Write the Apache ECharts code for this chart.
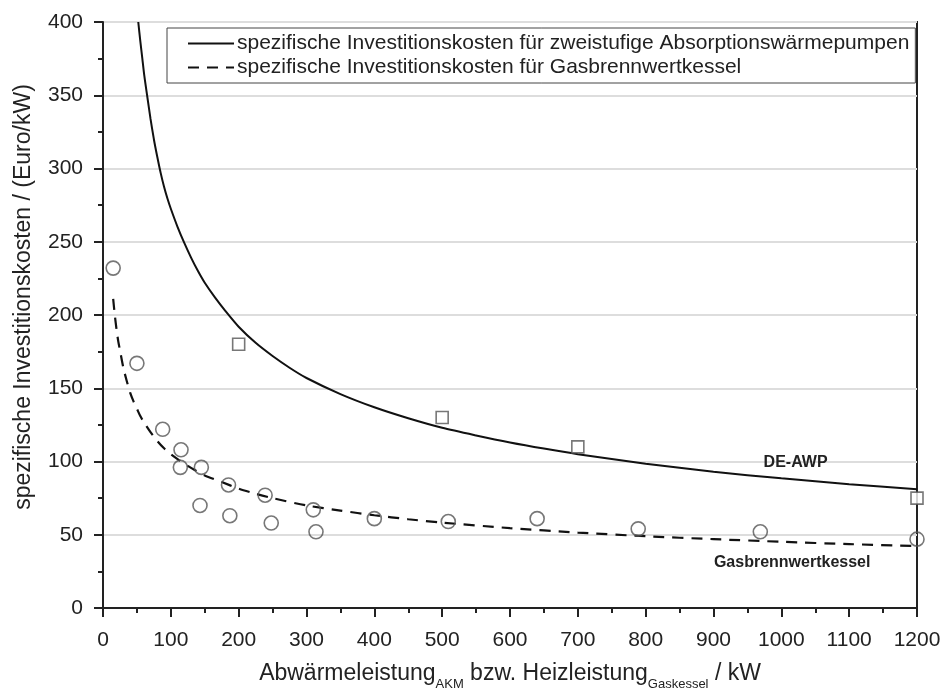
<!DOCTYPE html>
<html>
<head>
<meta charset="utf-8">
<script src="https://cdn.jsdelivr.net/npm/echarts@6/dist/echarts.min.js"></script>
<style>
  html, body { margin: 0; padding: 0; background: #fff; }
  #chart { width: 944px; height: 690px; }
</style>
</head>
<body>
<div id="chart"></div>
<script>
// Kurven
const awpCurve = [
  [52, 400], [55, 387], [58, 375], [61, 363], [65, 350], [70, 334], [75, 320],
  [80, 308], [85, 297], [90, 287.5], [95, 279.5], [100, 272.5], [110, 260], [120, 249],
  [130, 239], [140, 230], [150, 222], [165, 212], [180, 203], [200, 192],
  [225, 181], [250, 172], [275, 164], [300, 157], [350, 146], [400, 137],
  [450, 129.5], [500, 123], [550, 117.8], [600, 113], [650, 108.8], [700, 105],
  [800, 98.5], [900, 93], [1000, 88.5], [1100, 84.5], [1200, 81]
]
const gasCurve = [
  [15, 211], [17.5, 199.5], [20, 190], [22.5, 182], [25, 176], [30, 164],
  [35, 155], [40, 147], [45, 141], [50, 136], [55, 131], [60, 127], [70, 120],
  [80, 114], [90, 109], [100, 105], [112, 101], [125, 97], [137, 93.7],
  [150, 90.5], [175, 86], [200, 81.5], [225, 78], [250, 75], [300, 70],
  [350, 66.5], [400, 63.3], [450, 60.6], [500, 58.3], [600, 54.5], [700, 51.5],
  [800, 49], [900, 47], [1000, 45.2], [1100, 43.6], [1200, 42.3]
]
// Messpunkte
const awpPoints = [[200, 180], [500, 130], [700, 110], [1200, 75]]
const gasPoints = [
  [15, 232], [50, 167], [88, 122], [115, 108], [114, 96], [145, 96], [143, 70],
  [185, 84], [187, 63], [239, 77], [248, 58], [310, 67], [314, 52], [400, 61],
  [509, 59], [640, 61], [789, 54], [969, 52], [1200, 47]
]
const curveLabels = [
  { name: 'DE-AWP', coord: [1021, 99.5] },
  { name: 'Gasbrennwertkessel', coord: [1016, 31] }
]
const nameAwp = 'spezifische Investitionskosten für zweistufige Absorptionswärmepumpen'
const nameGas = 'spezifische Investitionskosten für Gasbrennwertkessel'

const font = 'Liberation Sans, Arial, sans-serif'
const chart = echarts.init(document.getElementById('chart'))

const option = {
  animation: false,
  textStyle: { fontFamily: font },
  grid: {
    left: 103, right: 27, top: 22, bottom: 82,
    outerBoundsMode: 'none', containLabel: false,
    show: true, borderColor: '#222', borderWidth: 2, backgroundColor: 'transparent'
  },
  legend: {
    data: [nameAwp, nameGas],
    orient: 'vertical',
    left: 167, top: 28,
    itemWidth: 46, itemHeight: 14, itemGap: 3,
    padding: [5, 6, 5, 20],
    borderColor: '#444', borderWidth: 1,
    backgroundColor: '#fff',
    itemStyle: { opacity: 0 },
    textStyle: { fontSize: 21, color: '#222', fontFamily: font, padding: [0, 0, 0, -2] }
  },
  xAxis: {
    type: 'value', min: 0, max: 1200, interval: 100,
    name: 'Abwärmeleistung{sub|AKM} bzw. Heizleistung{sub|Gaskessel} / kW',
    nameLocation: 'middle', nameGap: 49,
    nameTextStyle: {
      fontSize: 23, color: '#222', lineHeight: 34,
      rich: { sub: { fontSize: 13, lineHeight: 34, verticalAlign: 'bottom', color: '#222' } }
    },
    axisLine: { lineStyle: { color: '#222', width: 2 } },
    axisTick: { inside: false, length: 9, lineStyle: { color: '#222', width: 2 } },
    minorTick: { show: true, splitNumber: 2, length: 5, lineStyle: { color: '#222', width: 2 } },
    axisLabel: { fontSize: 21, color: '#222', margin: 22, formatter: v => String(v) },
    splitLine: { show: false }
  },
  yAxis: {
    type: 'value', min: 0, max: 400, interval: 50,
    name: 'spezifische Investitionskosten / (Euro/kW)',
    nameLocation: 'middle', nameGap: 68,
    nameTextStyle: { fontSize: 23, color: '#222', padding: [0, 0, 0, 36] },
    axisLine: { lineStyle: { color: '#222', width: 2 } },
    axisTick: { inside: false, length: 9, lineStyle: { color: '#222', width: 2 } },
    minorTick: { show: true, splitNumber: 2, length: 5, lineStyle: { color: '#222', width: 2 } },
    axisLabel: { fontSize: 21, color: '#222', margin: 20, formatter: v => String(v) },
    splitLine: { show: true, lineStyle: { color: '#ddd', width: 2 } }
  },
  series: [
    {
      name: nameAwp, type: 'line', data: awpCurve, smooth: 0.25,
      symbol: 'none', clip: true,
      lineStyle: { color: '#111', width: 2 },
      itemStyle: { color: '#111' },
      markPoint: {
        symbol: 'circle', symbolSize: 0,
        label: { show: true, formatter: '{b}', fontSize: 16, fontWeight: 'bold', color: '#222', position: 'inside' },
        data: [curveLabels[0]]
      }
    },
    {
      name: nameGas, type: 'line', data: gasCurve, smooth: 0.25,
      symbol: 'none', clip: true,
      lineStyle: { color: '#111', width: 2.2, type: [11, 8] },
      itemStyle: { color: '#111' },
      markPoint: {
        symbol: 'circle', symbolSize: 0,
        label: { show: true, formatter: '{b}', fontSize: 16, fontWeight: 'bold', color: '#222', position: 'inside' },
        data: [curveLabels[1]]
      }
    },
    {
      name: 'AWP Daten', type: 'scatter', data: awpPoints,
      symbol: 'rect', symbolSize: 12,
      itemStyle: { color: '#fff', borderColor: '#555', borderWidth: 1.6 },
      z: 3
    },
    {
      name: 'Gas Daten', type: 'scatter', data: gasPoints,
      symbol: 'circle', symbolSize: 14,
      itemStyle: { color: 'rgba(255,255,255,0)', borderColor: '#555', borderWidth: 1.6 },
      z: 3
    }
  ]
}

chart.setOption(option)
window.addEventListener('resize', () => chart.resize())
</script>
</body>
</html>
